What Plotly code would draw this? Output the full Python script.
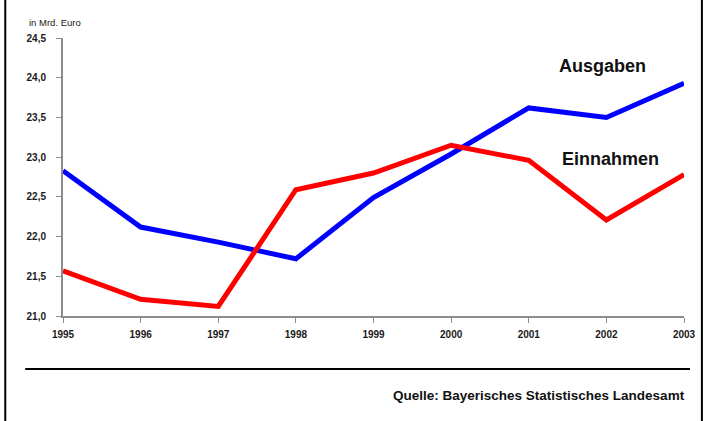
import plotly.graph_objects as go

years = [1995, 1996, 1997, 1998, 1999, 2000, 2001, 2002, 2003]
ausgaben = [22.83, 22.12, 21.93, 21.72, 22.49, 23.04, 23.62, 23.50, 23.93]
einnahmen = [21.57, 21.21, 21.12, 22.59, 22.80, 23.15, 22.96, 22.21, 22.78]
y_ticks = [21.0, 21.5, 22.0, 22.5, 23.0, 23.5, 24.0, 24.5]

W, H = 708, 421
L, R, T, B = 63, 687, 38, 316
pw, ph = R - L, B - T

def px(x):
    return (x - L) / pw

def py(y):
    return (B - y) / ph

FONT = "Arial, Liberation Sans, sans-serif"

fig = go.Figure()
fig.add_trace(go.Scatter(x=years, y=ausgaben, mode="lines", name="Ausgaben",
                         line=dict(color="#0000FF", width=5), cliponaxis=False))
fig.add_trace(go.Scatter(x=years, y=einnahmen, mode="lines", name="Einnahmen",
                         line=dict(color="#FF0000", width=5), cliponaxis=False))

fig.update_layout(
    width=W, height=H,
    margin=dict(l=L, r=W - R, t=T, b=H - B),
    paper_bgcolor="white", plot_bgcolor="white",
    showlegend=False,
    separators=",.",
    font=dict(family=FONT, color="#1a1a1a"),
    xaxis=dict(range=[1995, 2003], tickvals=years,
               ticktext=[f"<b>{y}</b>" for y in years],
               showgrid=False, zeroline=False, showline=True,
               linecolor="#8c8c8c", linewidth=2,
               ticks="outside", ticklen=5, tickcolor="#8c8c8c", tickwidth=1,
               ticklabelstandoff=3,
               tickfont=dict(size=10, family=FONT, color="#1a1a1a")),
    yaxis=dict(range=[21.0, 24.5], tickvals=y_ticks,
               ticktext=[f"<b>{v:.1f}</b>".replace(".", ",") for v in y_ticks],
               showgrid=False, zeroline=False, showline=True,
               linecolor="#8c8c8c", linewidth=2,
               ticks="outside", ticklen=5, tickcolor="#8c8c8c", tickwidth=1,
               ticklabelstandoff=8,
               tickfont=dict(size=10, family=FONT, color="#1a1a1a")),
)

fig.add_annotation(text="in Mrd. Euro", xref="paper", yref="paper",
                   x=px(27), y=py(23), xanchor="left", yanchor="middle",
                   showarrow=False, font=dict(size=9.5, family=FONT, color="#1a1a1a"))
fig.add_annotation(text="<b>Ausgaben</b>", xref="paper", yref="paper",
                   x=px(605), y=py(66), xanchor="center", yanchor="middle",
                   showarrow=False, font=dict(size=18, family=FONT, color="#111111"))
fig.add_annotation(text="<b>Einnahmen</b>", xref="paper", yref="paper",
                   x=px(613), y=py(159), xanchor="center", yanchor="middle",
                   showarrow=False, font=dict(size=18, family=FONT, color="#111111"))
fig.add_annotation(text="<b>Quelle: Bayerisches Statistisches Landesamt</b>",
                   xref="paper", yref="paper", x=px(690), y=py(395),
                   xanchor="right", yanchor="middle", showarrow=False,
                   font=dict(size=13.5, family=FONT, color="#111111"))

# separator line and frame
fig.add_shape(type="line", xref="paper", yref="paper",
              x0=px(25), x1=px(693), y0=py(369), y1=py(369),
              line=dict(color="black", width=2))
fig.add_shape(type="line", xref="paper", yref="paper",
              x0=px(5), x1=px(5), y0=py(0), y1=py(421),
              line=dict(color="black", width=2))
fig.add_shape(type="line", xref="paper", yref="paper",
              x0=px(705), x1=px(705), y0=py(0), y1=py(421),
              line=dict(color="black", width=2))

fig.write_html("out.html")
